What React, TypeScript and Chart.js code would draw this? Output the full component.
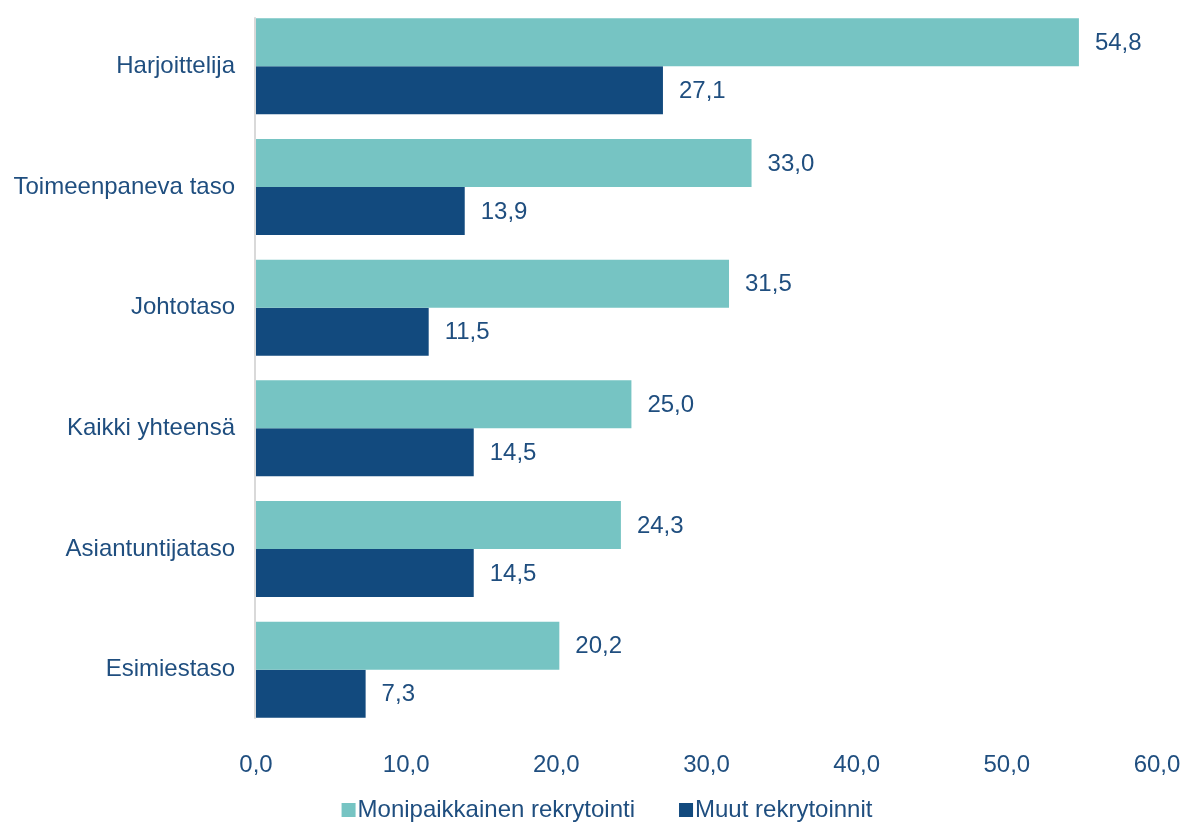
import React, { useEffect, useRef } from "react";
import { Chart, registerables } from "chart.js";

Chart.register(...registerables);

const categories = [
  "Harjoittelija",
  "Toimeenpaneva taso",
  "Johtotaso",
  "Kaikki yhteensä",
  "Asiantuntijataso",
  "Esimiestaso",
];
const monipaikkainen = [54.8, 33.0, 31.5, 25.0, 24.3, 20.2];
const muut = [27.1, 13.9, 11.5, 14.5, 14.5, 7.3];
const seriesNames = ["Monipaikkainen rekrytointi", "Muut rekrytoinnit"];
const xTicks = [0, 10, 20, 30, 40, 50, 60];

const TEAL = "#76C4C3";
const NAVY = "#124A7E";
const TEXT = "#1F4E7F";
const FONT = "'Liberation Sans', Arial, sans-serif";

const fmt = (v: number) => v.toFixed(1).replace(".", ",");

const valueLabels = {
  id: "valueLabels",
  afterDatasetsDraw(chart: any) {
    const ctx = chart.ctx;
    ctx.save();
    ctx.font = `24px ${FONT}`;
    ctx.fillStyle = TEXT;
    ctx.textAlign = "left";
    ctx.textBaseline = "middle";
    chart.data.datasets.forEach((ds: any, i: number) => {
      const meta = chart.getDatasetMeta(i);
      meta.data.forEach((el: any, j: number) => {
        ctx.fillText(fmt(ds.data[j]), el.x + 16, el.y + 1);
      });
    });
    ctx.restore();
  },
};

const axisLine = {
  id: "axisLine",
  beforeDatasetsDraw(chart: any) {
    const m0 = chart.getDatasetMeta(0).data;
    const m1 = chart.getDatasetMeta(1).data;
    if (!m0.length) return;
    const top = m0[0].y - m0[0].height / 2 - 1;
    const bottom = m1[m1.length - 1].y + m1[m1.length - 1].height / 2 + 1;
    const x = chart.scales.x.getPixelForValue(0);
    const ctx = chart.ctx;
    ctx.save();
    ctx.strokeStyle = "#D9D9D9";
    ctx.lineWidth = 2;
    ctx.beginPath();
    ctx.moveTo(x - 1, top);
    ctx.lineTo(x - 1, bottom);
    ctx.stroke();
    ctx.restore();
  },
};

const customLegend = {
  id: "customLegend",
  afterDraw(chart: any) {
    const ctx = chart.ctx;
    ctx.save();
    ctx.font = `24px ${FONT}`;
    ctx.textBaseline = "middle";
    ctx.textAlign = "left";
    const box = 14;
    const gapBox = 2;
    const gapItem = 44;
    const items = chart.data.datasets.map((ds: any) => ({
      label: ds.label,
      color: ds.backgroundColor,
      w: box + gapBox + ctx.measureText(ds.label).width,
    }));
    const total = items.reduce((s: number, it: any) => s + it.w, 0) + gapItem * (items.length - 1);
    let x = 607 - total / 2;
    const y = 810;
    items.forEach((it: any) => {
      ctx.fillStyle = it.color;
      ctx.fillRect(x, y - box / 2, box, box);
      ctx.fillStyle = TEXT;
      ctx.fillText(it.label, x + box + gapBox, y);
      x += it.w + gapItem;
    });
    ctx.restore();
  },
};

export default function App() {
  const ref = useRef<HTMLCanvasElement>(null);
  useEffect(() => {
    if (!ref.current) return;
    const chart = new Chart(ref.current, {
      type: "bar",
      data: {
        labels: categories,
        datasets: [
          {
            label: seriesNames[0],
            data: monipaikkainen,
            backgroundColor: TEAL,
            categoryPercentage: 0.796,
            barPercentage: 1,
          },
          {
            label: seriesNames[1],
            data: muut,
            backgroundColor: NAVY,
            categoryPercentage: 0.796,
            barPercentage: 1,
          },
        ],
      },
      options: {
        indexAxis: "y",
        animation: false,
        responsive: false,
        maintainAspectRatio: false,
        layout: { padding: { top: 6, right: 31, left: 0, bottom: 0 } },
        plugins: {
          legend: { display: false },
          tooltip: { enabled: false },
        },
        scales: {
          x: {
            min: 0,
            max: 60,
            afterBuildTicks: (scale: any) => {
              scale.ticks = xTicks.map((v) => ({ value: v }));
            },
            afterFit: (scale: any) => {
              scale.height = 97;
              scale.paddingLeft = 0;
              scale.paddingRight = 0;
              scale.paddingTop = 0;
              scale.paddingBottom = 0;
            },
            grid: { display: false, drawTicks: false },
            border: { display: false },
            ticks: {
              padding: 21,
              color: TEXT,
              font: { family: FONT, size: 24 },
              callback: (v: any) => fmt(Number(v)),
              maxRotation: 0,
            },
          },
          y: {
            afterFit: (scale: any) => {
              scale.width = 256;
              scale.paddingLeft = 0;
              scale.paddingRight = 0;
              scale.paddingTop = 0;
              scale.paddingBottom = 0;
            },
            grid: { display: false, drawTicks: false },
            border: { display: false },
            ticks: {
              padding: 21,
              color: TEXT,
              font: { family: FONT, size: 24 },
            },
          },
        },
      },
      plugins: [axisLine, valueLabels, customLegend],
    });
    return () => chart.destroy();
  }, []);
  return (
    <div style={{ position: "fixed", left: 0, top: 0, width: 1188, height: 827, background: "#fff" }}>
      <canvas ref={ref} width={1188} height={827} style={{ width: 1188, height: 827, display: "block" }} />
    </div>
  );
}
